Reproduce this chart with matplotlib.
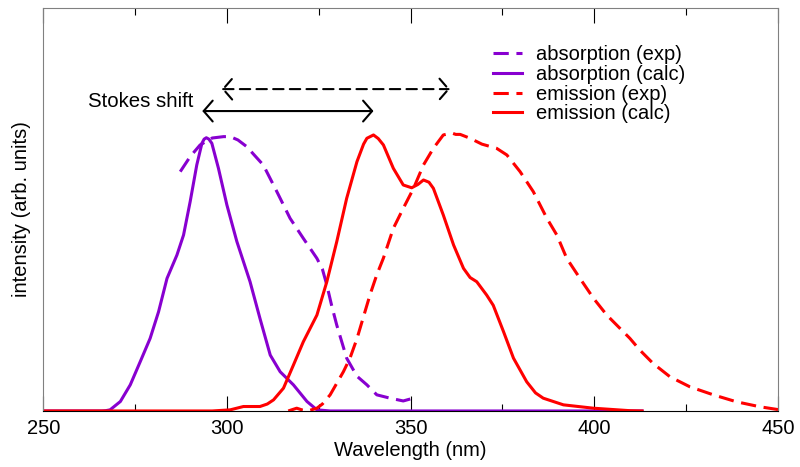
import matplotlib.pyplot as plt
from matplotlib.ticker import MultipleLocator

plt.rcParams['font.family'] = ['Liberation Sans', 'DejaVu Sans']

PURPLE = '#8800d0'
RED = '#ff0000'

# absorption, calculated
abs_calc_wl = [250, 266, 267, 268.2, 271.0, 273.7, 276.4, 279.1, 281.4, 283.7, 286.4, 288.2,
               290.0, 291.8, 293.2, 293.8, 294.4, 295.1, 295.9, 297.7, 300.0, 302.7, 306.3,
               309.0, 311.8, 314.5, 318.1, 321.8, 324.5, 328.1, 413]
abs_calc_i = [0, 0, 0.001, 0.004, 0.034, 0.094, 0.177, 0.261, 0.357, 0.477, 0.561, 0.633,
              0.753, 0.885, 0.963, 0.978, 0.983, 0.978, 0.963, 0.873, 0.741, 0.610, 0.465,
              0.333, 0.201, 0.141, 0.094, 0.034, 0.004, 0, 0]

# absorption, experiment
abs_exp_wl = [287.3, 290, 292.7, 296, 299.1, 300.9, 303, 305.4, 307.5, 309.9, 313.6, 317.2,
              320.8, 324.5, 326, 327.2, 328.5, 329.9, 332.6, 335.4, 338.1, 340.8, 344.4,
              348.0, 349.9]
abs_exp_i = [0.861, 0.915, 0.957, 0.982, 0.987, 0.987, 0.975, 0.951, 0.92, 0.885, 0.789,
             0.693, 0.621, 0.549, 0.51, 0.453, 0.38, 0.309, 0.19, 0.125, 0.094, 0.058, 0.046,
             0.036, 0.043]

# emission, calculated
em_calc_wl = [250, 296, 300.9, 304.5, 309.0, 311, 312.7, 315.4, 318.1, 320.8, 324.5, 327.2,
              329.9, 332.6, 335.4, 337.2, 338.1, 339.9, 341.2, 342.6, 345.3, 348.0, 350.3,
              352, 353.5, 355, 356.2, 358.9, 361.7, 364.4, 366.2, 368.0, 370.7, 372.5, 375.3,
              378.0, 381.6, 384, 386.1, 391.6, 399.7, 409.7, 413]
em_calc_i = [0, 0, 0.004, 0.016, 0.016, 0.025, 0.04, 0.082, 0.165, 0.249, 0.345, 0.465,
             0.609, 0.765, 0.897, 0.96, 0.981, 0.993, 0.98, 0.957, 0.873, 0.813, 0.803,
             0.815, 0.831, 0.823, 0.801, 0.705, 0.597, 0.513, 0.48, 0.465, 0.417, 0.38, 0.285,
             0.19, 0.105, 0.065, 0.046, 0.022, 0.01, 0.001, 0]

# emission, experiment
em_exp_wl = [316.7, 319.0, 320.4, 322, 324.5, 326, 328.1, 331.7, 333.5, 335.4, 336.3, 338.1,
             339.0, 340.8, 342.6, 345.3, 348.0, 350.8, 353.5, 356.2, 358.9, 361.2, 362.3,
             363.5, 366.2, 369.4, 373.4, 376.2, 379.8, 383.4, 387.1, 389.8, 392.5, 396.1,
             399.8, 403.4, 407.0, 409.7, 412.4, 416, 420.6, 426, 432.4, 438.7, 445.1, 450]
em_exp_i = [0.0, 0.01, 0.004, 0.0, 0.01, 0.025, 0.058, 0.141, 0.19, 0.26, 0.3, 0.38, 0.42,
            0.49, 0.55, 0.657, 0.729, 0.801, 0.885, 0.945, 0.993, 1.0, 0.995, 0.995, 0.981,
            0.96, 0.945, 0.921, 0.861, 0.789, 0.693, 0.633, 0.549, 0.477, 0.405, 0.345,
            0.297, 0.261, 0.219, 0.171, 0.123, 0.087, 0.058, 0.033, 0.015, 0.005]

# peak positions used for the Stokes shift arrows
calc_peaks = (293.3, 339.9)
exp_peaks = (298.6, 360.7)

fig = plt.figure(figsize=(8, 4.67), dpi=100)
ax = fig.add_axes([0.054, 0.12, 0.9185, 0.863])

lw = 2.2
dash = (5, 2.5)
style = dict(lw=lw, solid_joinstyle='round', dash_joinstyle='round')
ax.plot(abs_exp_wl, abs_exp_i, color=PURPLE, dashes=dash, label='absorption (exp)', **style)
ax.plot(abs_calc_wl, abs_calc_i, color=PURPLE, label='absorption (calc)', **style)
ax.plot(em_exp_wl, em_exp_i, color=RED, dashes=dash, label='emission (exp)', **style)
ax.plot(em_calc_wl, em_calc_i, color=RED, label='emission (calc)', **style)

# Stokes shift arrows
head = '<->,head_length=0.65,head_width=0.75'
ax.annotate('', xy=(calc_peaks[1], 1.079), xytext=(calc_peaks[0], 1.079),
            arrowprops=dict(arrowstyle=head, color='black', lw=1.5, shrinkA=0, shrinkB=0))
ax.annotate('', xy=(exp_peaks[1], 1.158), xytext=(exp_peaks[0], 1.158),
            arrowprops=dict(arrowstyle=head, color='black', lw=1.5, linestyle=(0, (5, 3)),
                            shrinkA=0, shrinkB=0))
ax.text(290.8, 1.115, 'Stokes shift', ha='right', va='center', fontsize=14.7)

ax.set_xlim(250, 450)
ax.set_ylim(0, 1.45)
ax.xaxis.set_major_locator(MultipleLocator(50))
ax.xaxis.set_minor_locator(MultipleLocator(25))
ax.set_yticks([])
ax.tick_params(axis='x', which='both', direction='in', top=True, labelsize=14.5, pad=6)
ax.tick_params(axis='x', which='major', length=10.8, width=0.8)
ax.tick_params(axis='x', which='minor', length=5, width=0.8)

for side in ['left', 'top', 'right']:
    ax.spines[side].set_color('#808080')
ax.spines['bottom'].set_color('black')

ax.set_xlabel('Wavelength (nm)', fontsize=14.5, labelpad=2)
ax.set_ylabel('intensity (arb. units)', fontsize=14.5, labelpad=9)

ax.legend(loc='upper left', bbox_to_anchor=(493 / 800, 1 - 45 / 467),
          bbox_transform=fig.transFigure, frameon=False, fontsize=14.5,
          handlelength=1.45, handletextpad=0.7, labelspacing=0.04, borderpad=0,
          borderaxespad=0)

plt.savefig('out.png', dpi=100)
